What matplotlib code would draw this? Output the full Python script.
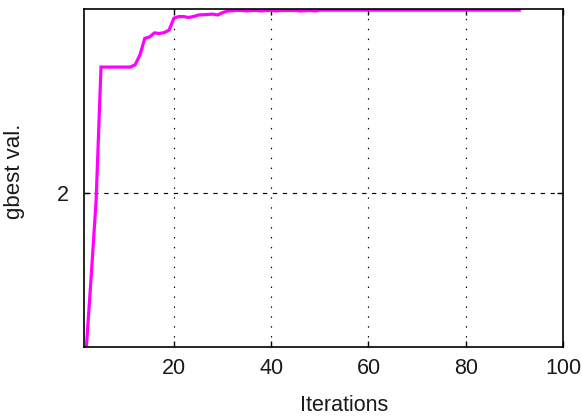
import matplotlib.pyplot as plt
import numpy as np

plt.rcParams['font.family'] = ['Liberation Sans', 'DejaVu Sans']

# gbest value per iteration
iters_start = [2, 3, 4, 5, 6, 7, 8, 9, 10, 11, 12, 13, 14, 15, 16, 17, 18, 19, 20,
               21, 22, 23, 24, 25, 26, 27, 28, 29, 30, 31, 32, 33, 34, 35, 36, 37,
               38, 39, 40, 41, 42, 43, 44, 45, 46, 47, 48, 49, 50]
gbest_start = [1.500, 1.733, 1.976, 2.408, 2.408, 2.408, 2.408, 2.408, 2.408, 2.408,
               2.415, 2.447, 2.501, 2.506, 2.519, 2.517, 2.520, 2.528, 2.567,
               2.572, 2.572, 2.569, 2.572, 2.577, 2.578, 2.579, 2.580, 2.577, 2.585,
               2.590, 2.591, 2.592, 2.592, 2.590, 2.592, 2.592, 2.590, 2.592, 2.592,
               2.590, 2.592, 2.592, 2.592, 2.592, 2.590, 2.591, 2.592, 2.590, 2.593]
iters_end = list(range(51, 92))
gbest_end = [2.593] * len(iters_end)

iterations = iters_start + iters_end
gbest = gbest_start + gbest_end

x_ticks = [20, 40, 60, 80, 100]
y_ticks = [2]

fig = plt.figure(figsize=(5.82, 4.16), dpi=100)
ax = fig.add_axes([0.1443, 0.1666, 0.8231, 0.8106])

ax.plot(iterations, gbest, color='#ff00ff', linewidth=2.3, solid_joinstyle='miter')

ax.set_xlim(1.5, 100)
ax.set_ylim(1.5, 2.595)
ax.set_xticks(x_ticks)
ax.set_yticks(y_ticks)

# matlab-ish grid: dots on vertical lines, short dashes on the horizontal one
ax.xaxis.grid(True, color='black', linestyle=(0, (1.2, 7.2)), linewidth=0.85)
ax.yaxis.grid(True, color='black', linestyle=(0, (3.6, 4.8)), linewidth=0.85)

ax.tick_params(direction='in', length=4, width=1, top=True, right=True,
               labelsize=15.5, labelcolor='#1a1a1a')
ax.tick_params(axis='x', pad=8)
ax.tick_params(axis='y', pad=11)
for s in ax.spines.values():
    s.set_linewidth(1.2)

ax.set_xlabel('Iterations', fontsize=15.5, color='#1a1a1a')
ax.set_ylabel('gbest val.', fontsize=16, color='#1a1a1a')
ax.xaxis.set_label_coords(0.543, -0.143)
ax.yaxis.set_label_coords(-0.123, 0.52)

fig.savefig('out.png', dpi=100)
